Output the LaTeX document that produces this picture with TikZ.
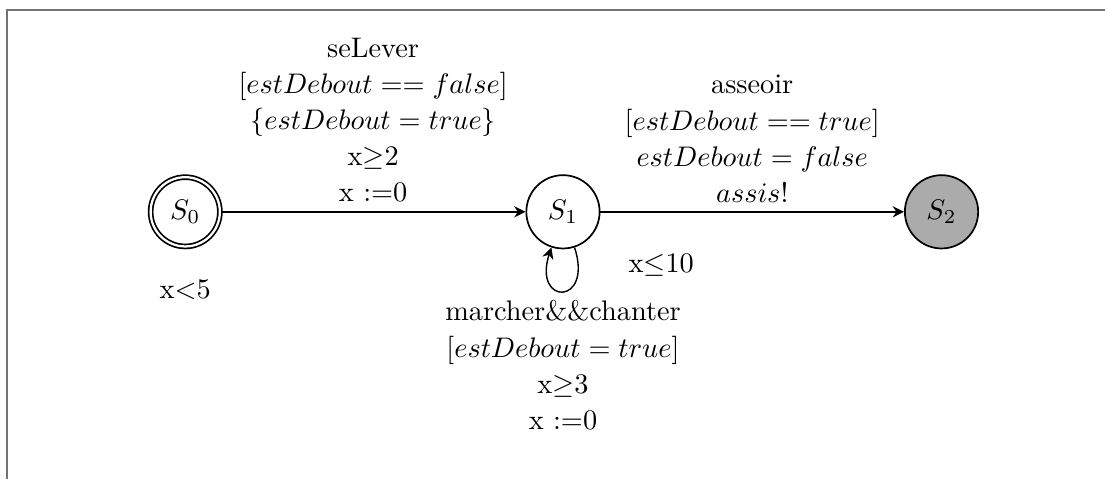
\documentclass[tikz,border=0pt]{standalone}
\usepackage{amsmath,amssymb}
\usepackage{tikz}
\usetikzlibrary{arrows.meta}
\definecolor{Frame}{HTML}{727272}
\definecolor{Final}{HTML}{ABABAB}

\begin{document}
\begin{tikzpicture}[font=\normalsize,
      state/.style={circle,draw,line width=0.6pt,minimum size=9.1mm,inner sep=0pt},
      initial/.style={state,double,double distance=0.8pt,minimum size=8.6mm},
      final/.style={state,fill=Final},
      edge/.style={-{Stealth[length=4pt,width=4pt]},line width=0.5pt},
      guard/.style={align=center,inner sep=3pt,font=\fontsize{10}{12.8}\selectfont},
      inv/.style={inner sep=1pt}]
    \useasboundingbox (0,0) rectangle (13.72,-5.95);
    \draw[Frame,line width=0.6pt] (0.09,-5.95) -- (0.09,-0.12) -- (13.72,-0.12);

    \node[initial] (s0) at (2.30,-2.63) {$S_0$};
    \node[state] (s1) at (6.99,-2.63) {$S_1$};
    \node[final] (s2) at (11.69,-2.63) {$S_2$};

    \node[inv] (inv0) at (2.30,-3.60) {x$<$5};
    \node[inv] (inv1) at (8.21,-3.29) {x$\leq$10};

    \draw[edge] (s0) -- (s1)
      node[midway,above,guard]
        {seLever\\ $[estDebout == false]$\\ $\{estDebout = true\}$\\
         x$\geq$2\\ x :=0};
    \draw[edge] (s1) -- (s2)
      node[midway,above,guard]
        {asseoir\\ $[estDebout == true]$\\ $estDebout = false$\\ $assis!$};
    \draw[edge] (s1) to[out=-72,in=-108,looseness=6.8]
      node[below,guard]
        {marcher\&\&chanter\\ $[estDebout = true]$\\ x$\geq$3\\ x :=0} (s1);
  \end{tikzpicture}
\end{document}
